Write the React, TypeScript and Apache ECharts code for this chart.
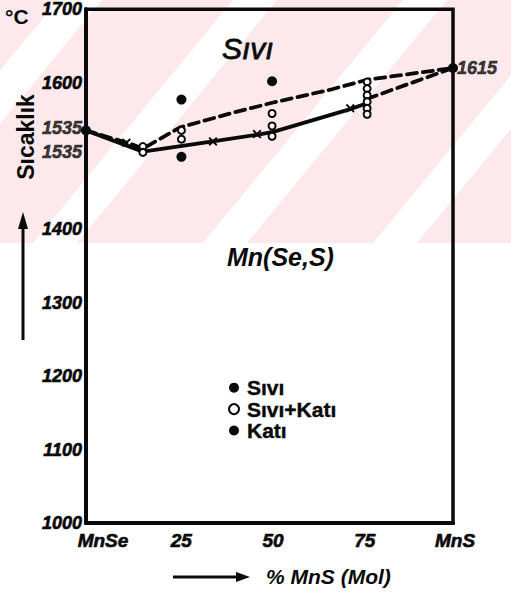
import React, { useEffect, useRef } from "react";
import * as echarts from "echarts";

// ---- data ----
const xTicks = [0, 25, 50, 75, 100];
const yTicks = [1000, 1100, 1200, 1300, 1400, 1600, 1700];
const liquidus: number[][] = [[0, 1535], [12.5, 1516], [15.5, 1510], [25.6, 1539], [40, 1559], [51, 1573], [67, 1591], [76.6, 1604], [100, 1620]];
const solidusSolid: number[][] = [[0, 1535], [15.5, 1506], [34.6, 1520], [46.6, 1529], [51, 1533], [72, 1564], [76, 1571]];
const solidusDashed: number[][] = [[76.6, 1578], [100, 1620]];
const siviPts: number[][] = [[26, 1577], [50.7, 1602]];
const siviKatiPts: number[][] = [[15.5, 1513], [15.5, 1505], [26, 1535], [26, 1523], [50.7, 1558], [50.7, 1541], [50.7, 1527], [76.6, 1601], [76.6, 1592], [76.6, 1583], [76.6, 1574], [76.6, 1565], [76.6, 1557]];
const katiPts: number[][] = [[26, 1499]];
const crossPts: number[][] = [[11, 1518], [34.6, 1520], [46.6, 1530], [72, 1565]];
const endPts: number[][] = [[0, 1535], [100, 1620]];
const annotations = [
  { x: 0, t: 1538, text: "1535", pos: "left" },
  { x: 0, t: 1505, text: "1535", pos: "left" },
  { x: 100, t: 1620, text: "1615", pos: "right" },
];

const INK = "#0a0a0a";
const FONT = "Liberation Sans";
const CROSS = "path://M0,1.5 L1.5,0 L5,3.5 L8.5,0 L10,1.5 L6.5,5 L10,8.5 L8.5,10 L5,6.5 L1.5,10 L0,8.5 L3.5,5 Z";
const bold = { textBorderColor: INK, textBorderWidth: 0.6 };

export default function App() {
  const ref = useRef<HTMLDivElement>(null);
  useEffect(() => {
    if (!ref.current) return;
    const chart = echarts.init(ref.current, undefined, { renderer: "svg" });

    const stripeCenters = [-120, 55, 225, 395, 565];
    const stripes = stripeCenters.map((c) => ({
      type: "polygon",
      z: -99,
      silent: true,
      shape: { points: [[c - 22, 243], [c + 22, 243], [c + 22 + 200, 0], [c - 22 + 200, 0]] },
      style: { fill: "#ffffff" },
    }));

    const richBase = { fontSize: 19, fontWeight: "bold", fontStyle: "italic", fontFamily: FONT, color: INK, ...bold };

    chart.setOption({
      animation: false,
      backgroundColor: "#ffffff",
      grid: { left: 86, right: 58, top: 8, bottom: 69, show: true, borderColor: INK, borderWidth: 3.5 },
      xAxis: {
        type: "value",
        min: 0,
        max: 100,
        interval: 25,
        axisLine: { show: true, lineStyle: { color: INK, width: 4 } },
        axisTick: { show: false },
        splitLine: { show: false },
        axisLabel: {
          margin: 8,
          color: INK,
          fontFamily: FONT,
          fontStyle: "italic",
          fontWeight: "bold",
          fontSize: 19,
          formatter: (v: number) => (v === 0 ? "{l|MnSe}" : v === 100 ? "{r|MnS}" : xTicks.includes(v) ? `{n|${v}}` : ""),
          rich: {
            l: { ...richBase, padding: [0, 0, 0, 34] },
            r: { ...richBase, padding: [0, 0, 0, 4] },
            n: { ...richBase, padding: [0, 0, 0, 7] },
          },
        },
      },
      yAxis: {
        type: "value",
        min: 1000,
        max: 1700,
        interval: 100,
        axisLine: { show: true, lineStyle: { color: INK, width: 4 } },
        axisTick: { show: false },
        splitLine: { show: false },
        axisLabel: {
          margin: 4,
          color: INK,
          fontFamily: FONT,
          fontStyle: "italic",
          fontWeight: "bold",
          fontSize: 18,
          ...bold,
          formatter: (v: number) => (yTicks.includes(v) ? String(v) : ""),
        },
      },
      legend: {
        orient: "vertical",
        left: 223,
        top: 372,
        itemGap: 0,
        itemWidth: 10,
        itemHeight: 10,
        data: ["Sıvı", "Sıvı+Katı", "Katı"],
        textStyle: { color: INK, fontFamily: FONT, fontWeight: "bold", fontSize: 21, lineHeight: 21, padding: [0, 0, 0, 3], ...bold, textBorderWidth: 0.4 },
      },
      graphic: [
        { type: "rect", z: -100, silent: true, shape: { x: 0, y: 0, width: 511, height: 243 }, style: { fill: "#fde9ec" } },
        ...stripes,
        { type: "text", x: 5, y: 6, style: { text: "°C", fill: INK, font: `bold 21px ${FONT}` } },
        { type: "text", x: 26, y: 137, rotation: Math.PI / 2, style: { text: "Sıcaklık", fill: INK, font: `bold 23px ${FONT}`, align: "center", verticalAlign: "middle" } },
        { type: "line", shape: { x1: 23, y1: 340, x2: 23, y2: 224 }, style: { stroke: INK, lineWidth: 3 } },
        { type: "polygon", shape: { points: [[18, 229], [28, 229], [23, 212]] }, style: { fill: INK } },
        { type: "text", x: 222, y: 33, style: { text: "Sıvı", fill: INK, font: `italic 30px ${FONT}`, stroke: INK, lineWidth: 0.8 } },
        { type: "text", x: 227, y: 244, style: { text: "Mn(Se,S)", fill: INK, font: `bold italic 25px ${FONT}` } },
        { type: "line", shape: { x1: 173, y1: 577, x2: 238, y2: 577 }, style: { stroke: INK, lineWidth: 3 } },
        { type: "polygon", shape: { points: [[236, 572], [236, 582], [250, 577]] }, style: { fill: INK } },
        { type: "text", x: 266, y: 566, style: { text: "% MnS (Mol)", fill: INK, font: `bold italic 21px ${FONT}` } },
      ],
      series: [
        { name: "liquidus", type: "line", data: liquidus, symbol: "none", lineStyle: { color: INK, width: 3.8, type: [10, 6], cap: "round" }, z: 3 },
        { name: "solidus", type: "line", data: solidusSolid, symbol: "none", lineStyle: { color: INK, width: 3.8 }, z: 3 },
        { name: "solidus2", type: "line", data: solidusDashed, symbol: "none", lineStyle: { color: INK, width: 3.8, type: [10, 6], cap: "round" }, z: 3 },
        { name: "Sıvı", type: "scatter", data: siviPts, symbol: "circle", symbolSize: 10, itemStyle: { color: INK, opacity: 1 }, z: 5 },
        { name: "Sıvı+Katı", type: "scatter", data: siviKatiPts, symbol: "emptyCircle", symbolSize: 7, itemStyle: { color: INK, borderColor: INK, borderWidth: 3, opacity: 1 }, z: 5 },
        { name: "Katı", type: "scatter", data: katiPts, symbol: "circle", symbolSize: 10, itemStyle: { color: INK, opacity: 1 }, z: 5 },
        { name: "x", type: "scatter", data: crossPts, symbol: CROSS, symbolSize: 9, itemStyle: { color: INK, opacity: 1 }, z: 5 },
        { name: "ends", type: "scatter", data: endPts, symbol: "circle", symbolSize: 10, itemStyle: { color: INK, opacity: 1 }, z: 6 },
        {
          name: "notes",
          type: "scatter",
          data: annotations.map((a) => ({ value: [a.x, a.t], label: { position: a.pos } })),
          symbolSize: 0,
          itemStyle: { color: "transparent" },
          z: 7,
          label: {
            show: true,
            distance: 4,
            color: INK,
            fontFamily: FONT,
            fontStyle: "italic",
            fontWeight: "bold",
            fontSize: 18,
            ...bold,
            formatter: (p: any) => annotations[p.dataIndex].text,
          },
        },
      ],
    });
    return () => chart.dispose();
  }, []);
  return <div ref={ref} style={{ width: 511, height: 592, position: "absolute", left: 0, top: 0 }} />;
}
